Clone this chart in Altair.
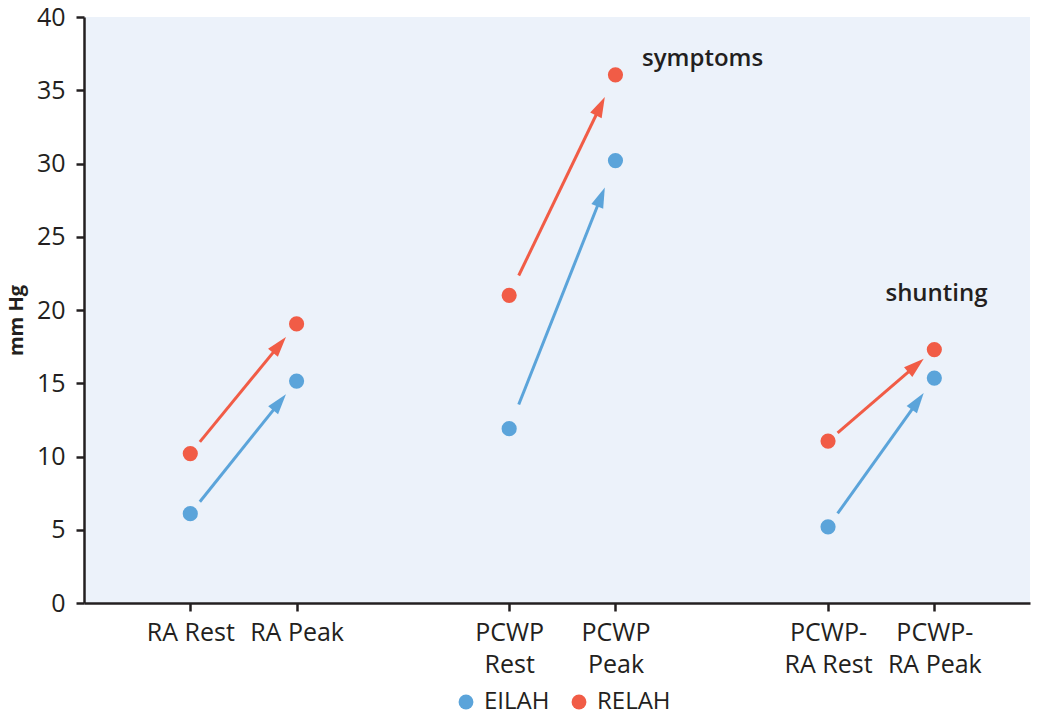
import math
import altair as alt
import pandas as pd

# ---- data ----
x_labels = [["RA Rest"], ["RA Peak"], ["PCWP", "Rest"], ["PCWP", "Peak"],
            ["PCWP-", "RA Rest"], ["PCWP-", "RA Peak"]]
cat_pos = [1, 2, 4, 5, 7, 8]
groups = ["EILAH", "RELAH"]
colors = ["#5BA4DA", "#F15C46"]
eilah = [6.1, 15.15, 11.9, 30.2, 5.2, 15.35]
relah = [10.2, 19.05, 21.0, 36.05, 11.05, 17.3]
notes = ["symptoms", "shunting"]
note_x = [5.25, 7.54]
note_y = [37.15, 21.1]

# ---- layout ----
W, H = 946, 586
XMAX = 8.9
YMAX = 40
px_x = W / XMAX
px_y = H / YMAX
FONT = "Open Sans"
INK = "#231F20"

pts = []
arrows = []
for g, vals in zip(groups, [eilah, relah]):
    for p, v in zip(cat_pos, vals):
        pts.append(dict(group=g, x=p, y=v))
    for i in range(0, len(vals), 2):
        x0, x1 = cat_pos[i], cat_pos[i + 1]
        y0, y1 = vals[i], vals[i + 1]
        dx, dy = x1 - x0, y1 - y0
        lpx = math.hypot(dx * px_x, dy * px_y)
        fs, ft = 0.09, 0.90
        fe = ft - 9 / lpx
        ang = math.degrees(math.atan2(dx * px_x, dy * px_y))
        arrows.append(dict(group=g,
                           xs=x0 + fs * dx, ys=y0 + fs * dy,
                           xe=x0 + fe * dx, ye=y0 + fe * dy,
                           xt=x0 + ft * dx, yt=y0 + ft * dy,
                           angle=ang))
pts = pd.DataFrame(pts)
arrows = pd.DataFrame(arrows)
notes_df = pd.DataFrame(dict(text=notes, x=note_x, y=note_y))

label_expr = ""
for p, lab in zip(cat_pos, x_labels):
    arr = "[" + ",".join("'" + s + "'" for s in lab) + "]"
    label_expr += f"datum.value == {p} ? {arr} : "
label_expr += "''"

xscale = alt.Scale(domain=[0, XMAX], nice=False, zero=False)
yscale = alt.Scale(domain=[0, YMAX], nice=False)
cscale = alt.Scale(domain=groups, range=colors)

x_axis = alt.Axis(values=cat_pos, labelExpr=label_expr, title=None,
                  labelFontSize=25, labelLineHeight=32, labelPadding=9,
                  tickSize=8, labelAngle=0)
y_axis = alt.Axis(values=list(range(0, 41, 5)), title="mm Hg",
                  labelFontSize=25, labelPadding=11, tickSize=8,
                  titleFontSize=20, titleFontWeight="bold",
                  titleX=-68, titleY=303, titleAngle=-90,
                  titleAlign="center", titleBaseline="middle")

legend = alt.Legend(orient="none", legendX=370, legendY=673,
                    direction="horizontal", title=None,
                    labelFontSize=24, labelFont=FONT, labelColor=INK,
                    labelFontWeight=500,
                    symbolSize=220, symbolType="circle",
                    symbolStrokeWidth=0, labelOffset=6,
                    columnPadding=17, padding=0)

color = alt.Color("group:N", scale=cscale, legend=legend)

shafts = alt.Chart(arrows).mark_rule(strokeWidth=3).encode(
    x=alt.X("xs:Q", scale=xscale, axis=x_axis),
    y=alt.Y("ys:Q", scale=yscale, axis=y_axis),
    x2="xe:Q", y2="ye:Q",
    color=color,
)

heads = alt.Chart(arrows).mark_point(
    shape="M0,0 L0.62,2 L-0.62,2 Z", filled=True, size=420, opacity=1, strokeWidth=0
).encode(
    x=alt.X("xt:Q", scale=xscale),
    y=alt.Y("yt:Q", scale=yscale),
    angle=alt.Angle("angle:Q", scale=None),
    color=color,
)

dots = alt.Chart(pts).mark_circle(size=230, opacity=1).encode(
    x=alt.X("x:Q", scale=xscale),
    y=alt.Y("y:Q", scale=yscale),
    color=color,
)

texts = alt.Chart(notes_df).mark_text(
    align="left", baseline="middle", fontSize=24, fontWeight=600, font=FONT, color=INK
).encode(
    x=alt.X("x:Q", scale=xscale),
    y=alt.Y("y:Q", scale=yscale),
    text="text:N",
)

chart = alt.layer(shafts, heads, dots, texts).properties(
    width=W, height=H,
    autosize=alt.AutoSizeParams(type="none"),
    padding={"left": 76, "top": 9, "right": 10, "bottom": 112},
).configure_view(
    fill="#ECF2FA", stroke=None
).configure_axis(
    grid=False, domainColor=INK, domainWidth=2.5, tickColor=INK, tickWidth=2.5,
    labelFont=FONT, titleFont=FONT, labelColor=INK, titleColor=INK,
    labelFontWeight=500,
)

chart.save("out.html", embed_options={"renderer": "svg", "actions": False})
